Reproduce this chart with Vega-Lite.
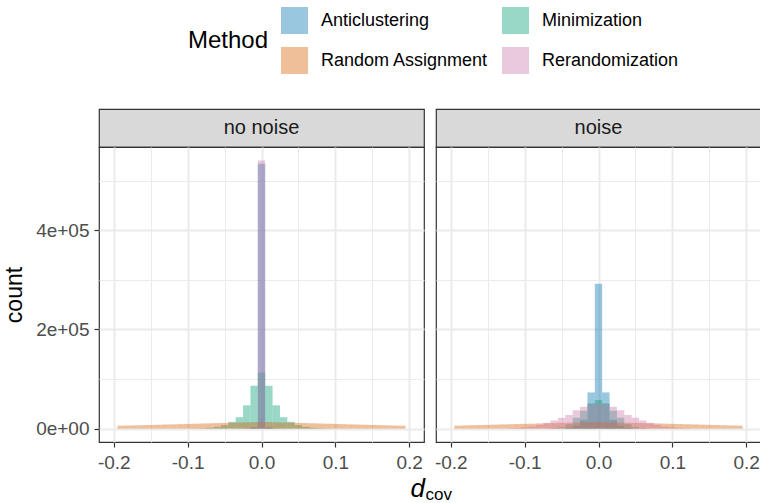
{
  "$schema": "https://vega.github.io/schema/vega-lite/v6.json",
  "padding": {"left": 3, "top": 7, "right": 0, "bottom": 0},
  "background": "white",
  "config": {"font": "Liberation Sans", "view": {"stroke": null}},
  "datasets": {
    "strips": [{"panel": "no noise"}, {"panel": "noise"}],
    "hist": [
      {"panel": "no noise", "method": "Anticlustering", "lo": -0.015, "hi": -0.005, "count": 2500},
      {"panel": "no noise", "method": "Anticlustering", "lo": -0.005, "hi": 0.005, "count": 534000},
      {"panel": "no noise", "method": "Anticlustering", "lo": 0.005, "hi": 0.015, "count": 2500},

      {"panel": "no noise", "method": "Minimization", "lo": -0.095, "hi": -0.085, "count": 300},
      {"panel": "no noise", "method": "Minimization", "lo": -0.085, "hi": -0.075, "count": 700},
      {"panel": "no noise", "method": "Minimization", "lo": -0.075, "hi": -0.065, "count": 1600},
      {"panel": "no noise", "method": "Minimization", "lo": -0.065, "hi": -0.055, "count": 3500},
      {"panel": "no noise", "method": "Minimization", "lo": -0.055, "hi": -0.045, "count": 7000},
      {"panel": "no noise", "method": "Minimization", "lo": -0.045, "hi": -0.035, "count": 13700},
      {"panel": "no noise", "method": "Minimization", "lo": -0.035, "hi": -0.025, "count": 23000},
      {"panel": "no noise", "method": "Minimization", "lo": -0.025, "hi": -0.015, "count": 47000},
      {"panel": "no noise", "method": "Minimization", "lo": -0.015, "hi": -0.005, "count": 86500},
      {"panel": "no noise", "method": "Minimization", "lo": -0.005, "hi": 0.005, "count": 113000},
      {"panel": "no noise", "method": "Minimization", "lo": 0.005, "hi": 0.015, "count": 86500},
      {"panel": "no noise", "method": "Minimization", "lo": 0.015, "hi": 0.025, "count": 47000},
      {"panel": "no noise", "method": "Minimization", "lo": 0.025, "hi": 0.035, "count": 23000},
      {"panel": "no noise", "method": "Minimization", "lo": 0.035, "hi": 0.045, "count": 13700},
      {"panel": "no noise", "method": "Minimization", "lo": 0.045, "hi": 0.055, "count": 7000},
      {"panel": "no noise", "method": "Minimization", "lo": 0.055, "hi": 0.065, "count": 3500},
      {"panel": "no noise", "method": "Minimization", "lo": 0.065, "hi": 0.075, "count": 1600},
      {"panel": "no noise", "method": "Minimization", "lo": 0.075, "hi": 0.085, "count": 700},
      {"panel": "no noise", "method": "Minimization", "lo": 0.085, "hi": 0.095, "count": 300},

      {"panel": "no noise", "method": "Random Assignment", "lo": -0.195, "hi": -0.185, "count": 5800},
      {"panel": "no noise", "method": "Random Assignment", "lo": -0.185, "hi": -0.175, "count": 6200},
      {"panel": "no noise", "method": "Random Assignment", "lo": -0.175, "hi": -0.165, "count": 6600},
      {"panel": "no noise", "method": "Random Assignment", "lo": -0.165, "hi": -0.155, "count": 7000},
      {"panel": "no noise", "method": "Random Assignment", "lo": -0.155, "hi": -0.145, "count": 7400},
      {"panel": "no noise", "method": "Random Assignment", "lo": -0.145, "hi": -0.135, "count": 7800},
      {"panel": "no noise", "method": "Random Assignment", "lo": -0.135, "hi": -0.125, "count": 8200},
      {"panel": "no noise", "method": "Random Assignment", "lo": -0.125, "hi": -0.115, "count": 8600},
      {"panel": "no noise", "method": "Random Assignment", "lo": -0.115, "hi": -0.105, "count": 9000},
      {"panel": "no noise", "method": "Random Assignment", "lo": -0.105, "hi": -0.095, "count": 9500},
      {"panel": "no noise", "method": "Random Assignment", "lo": -0.095, "hi": -0.085, "count": 9900},
      {"panel": "no noise", "method": "Random Assignment", "lo": -0.085, "hi": -0.075, "count": 10300},
      {"panel": "no noise", "method": "Random Assignment", "lo": -0.075, "hi": -0.065, "count": 10700},
      {"panel": "no noise", "method": "Random Assignment", "lo": -0.065, "hi": -0.055, "count": 11100},
      {"panel": "no noise", "method": "Random Assignment", "lo": -0.055, "hi": -0.045, "count": 11500},
      {"panel": "no noise", "method": "Random Assignment", "lo": -0.045, "hi": -0.035, "count": 11900},
      {"panel": "no noise", "method": "Random Assignment", "lo": -0.035, "hi": -0.025, "count": 12300},
      {"panel": "no noise", "method": "Random Assignment", "lo": -0.025, "hi": -0.015, "count": 12700},
      {"panel": "no noise", "method": "Random Assignment", "lo": -0.015, "hi": -0.005, "count": 13100},
      {"panel": "no noise", "method": "Random Assignment", "lo": -0.005, "hi": 0.005, "count": 13500},
      {"panel": "no noise", "method": "Random Assignment", "lo": 0.005, "hi": 0.015, "count": 13100},
      {"panel": "no noise", "method": "Random Assignment", "lo": 0.015, "hi": 0.025, "count": 12700},
      {"panel": "no noise", "method": "Random Assignment", "lo": 0.025, "hi": 0.035, "count": 12300},
      {"panel": "no noise", "method": "Random Assignment", "lo": 0.035, "hi": 0.045, "count": 11900},
      {"panel": "no noise", "method": "Random Assignment", "lo": 0.045, "hi": 0.055, "count": 11500},
      {"panel": "no noise", "method": "Random Assignment", "lo": 0.055, "hi": 0.065, "count": 11100},
      {"panel": "no noise", "method": "Random Assignment", "lo": 0.065, "hi": 0.075, "count": 10700},
      {"panel": "no noise", "method": "Random Assignment", "lo": 0.075, "hi": 0.085, "count": 10300},
      {"panel": "no noise", "method": "Random Assignment", "lo": 0.085, "hi": 0.095, "count": 9900},
      {"panel": "no noise", "method": "Random Assignment", "lo": 0.095, "hi": 0.105, "count": 9500},
      {"panel": "no noise", "method": "Random Assignment", "lo": 0.105, "hi": 0.115, "count": 9000},
      {"panel": "no noise", "method": "Random Assignment", "lo": 0.115, "hi": 0.125, "count": 8600},
      {"panel": "no noise", "method": "Random Assignment", "lo": 0.125, "hi": 0.135, "count": 8200},
      {"panel": "no noise", "method": "Random Assignment", "lo": 0.135, "hi": 0.145, "count": 7800},
      {"panel": "no noise", "method": "Random Assignment", "lo": 0.145, "hi": 0.155, "count": 7400},
      {"panel": "no noise", "method": "Random Assignment", "lo": 0.155, "hi": 0.165, "count": 7000},
      {"panel": "no noise", "method": "Random Assignment", "lo": 0.165, "hi": 0.175, "count": 6600},
      {"panel": "no noise", "method": "Random Assignment", "lo": 0.175, "hi": 0.185, "count": 6200},
      {"panel": "no noise", "method": "Random Assignment", "lo": 0.185, "hi": 0.195, "count": 5800},

      {"panel": "no noise", "method": "Rerandomization", "lo": -0.025, "hi": -0.015, "count": 1000},
      {"panel": "no noise", "method": "Rerandomization", "lo": -0.015, "hi": -0.005, "count": 3000},
      {"panel": "no noise", "method": "Rerandomization", "lo": -0.005, "hi": 0.005, "count": 541000},
      {"panel": "no noise", "method": "Rerandomization", "lo": 0.005, "hi": 0.015, "count": 3000},
      {"panel": "no noise", "method": "Rerandomization", "lo": 0.015, "hi": 0.025, "count": 1000},

      {"panel": "noise", "method": "Anticlustering", "lo": -0.045, "hi": -0.035, "count": 1500},
      {"panel": "noise", "method": "Anticlustering", "lo": -0.035, "hi": -0.025, "count": 6000},
      {"panel": "noise", "method": "Anticlustering", "lo": -0.025, "hi": -0.015, "count": 18000},
      {"panel": "noise", "method": "Anticlustering", "lo": -0.015, "hi": -0.005, "count": 73000},
      {"panel": "noise", "method": "Anticlustering", "lo": -0.005, "hi": 0.005, "count": 292000},
      {"panel": "noise", "method": "Anticlustering", "lo": 0.005, "hi": 0.015, "count": 73000},
      {"panel": "noise", "method": "Anticlustering", "lo": 0.015, "hi": 0.025, "count": 18000},
      {"panel": "noise", "method": "Anticlustering", "lo": 0.025, "hi": 0.035, "count": 6000},
      {"panel": "noise", "method": "Anticlustering", "lo": 0.035, "hi": 0.045, "count": 1500},

      {"panel": "noise", "method": "Minimization", "lo": -0.065, "hi": -0.055, "count": 1000},
      {"panel": "noise", "method": "Minimization", "lo": -0.055, "hi": -0.045, "count": 3000},
      {"panel": "noise", "method": "Minimization", "lo": -0.045, "hi": -0.035, "count": 9000},
      {"panel": "noise", "method": "Minimization", "lo": -0.035, "hi": -0.025, "count": 22000},
      {"panel": "noise", "method": "Minimization", "lo": -0.025, "hi": -0.015, "count": 36000},
      {"panel": "noise", "method": "Minimization", "lo": -0.015, "hi": -0.005, "count": 50900},
      {"panel": "noise", "method": "Minimization", "lo": -0.005, "hi": 0.005, "count": 57600},
      {"panel": "noise", "method": "Minimization", "lo": 0.005, "hi": 0.015, "count": 50900},
      {"panel": "noise", "method": "Minimization", "lo": 0.015, "hi": 0.025, "count": 36000},
      {"panel": "noise", "method": "Minimization", "lo": 0.025, "hi": 0.035, "count": 22000},
      {"panel": "noise", "method": "Minimization", "lo": 0.035, "hi": 0.045, "count": 9000},
      {"panel": "noise", "method": "Minimization", "lo": 0.045, "hi": 0.055, "count": 3000},
      {"panel": "noise", "method": "Minimization", "lo": 0.055, "hi": 0.065, "count": 1000},

      {"panel": "noise", "method": "Random Assignment", "lo": -0.195, "hi": -0.185, "count": 6000},
      {"panel": "noise", "method": "Random Assignment", "lo": -0.185, "hi": -0.175, "count": 6400},
      {"panel": "noise", "method": "Random Assignment", "lo": -0.175, "hi": -0.165, "count": 6800},
      {"panel": "noise", "method": "Random Assignment", "lo": -0.165, "hi": -0.155, "count": 7200},
      {"panel": "noise", "method": "Random Assignment", "lo": -0.155, "hi": -0.145, "count": 7600},
      {"panel": "noise", "method": "Random Assignment", "lo": -0.145, "hi": -0.135, "count": 8000},
      {"panel": "noise", "method": "Random Assignment", "lo": -0.135, "hi": -0.125, "count": 8400},
      {"panel": "noise", "method": "Random Assignment", "lo": -0.125, "hi": -0.115, "count": 8800},
      {"panel": "noise", "method": "Random Assignment", "lo": -0.115, "hi": -0.105, "count": 9200},
      {"panel": "noise", "method": "Random Assignment", "lo": -0.105, "hi": -0.095, "count": 9600},
      {"panel": "noise", "method": "Random Assignment", "lo": -0.095, "hi": -0.085, "count": 10000},
      {"panel": "noise", "method": "Random Assignment", "lo": -0.085, "hi": -0.075, "count": 10400},
      {"panel": "noise", "method": "Random Assignment", "lo": -0.075, "hi": -0.065, "count": 10800},
      {"panel": "noise", "method": "Random Assignment", "lo": -0.065, "hi": -0.055, "count": 11200},
      {"panel": "noise", "method": "Random Assignment", "lo": -0.055, "hi": -0.045, "count": 11600},
      {"panel": "noise", "method": "Random Assignment", "lo": -0.045, "hi": -0.035, "count": 12000},
      {"panel": "noise", "method": "Random Assignment", "lo": -0.035, "hi": -0.025, "count": 12400},
      {"panel": "noise", "method": "Random Assignment", "lo": -0.025, "hi": -0.015, "count": 12800},
      {"panel": "noise", "method": "Random Assignment", "lo": -0.015, "hi": -0.005, "count": 13200},
      {"panel": "noise", "method": "Random Assignment", "lo": -0.005, "hi": 0.005, "count": 13600},
      {"panel": "noise", "method": "Random Assignment", "lo": 0.005, "hi": 0.015, "count": 13200},
      {"panel": "noise", "method": "Random Assignment", "lo": 0.015, "hi": 0.025, "count": 12800},
      {"panel": "noise", "method": "Random Assignment", "lo": 0.025, "hi": 0.035, "count": 12400},
      {"panel": "noise", "method": "Random Assignment", "lo": 0.035, "hi": 0.045, "count": 12000},
      {"panel": "noise", "method": "Random Assignment", "lo": 0.045, "hi": 0.055, "count": 11600},
      {"panel": "noise", "method": "Random Assignment", "lo": 0.055, "hi": 0.065, "count": 11200},
      {"panel": "noise", "method": "Random Assignment", "lo": 0.065, "hi": 0.075, "count": 10800},
      {"panel": "noise", "method": "Random Assignment", "lo": 0.075, "hi": 0.085, "count": 10400},
      {"panel": "noise", "method": "Random Assignment", "lo": 0.085, "hi": 0.095, "count": 10000},
      {"panel": "noise", "method": "Random Assignment", "lo": 0.095, "hi": 0.105, "count": 9600},
      {"panel": "noise", "method": "Random Assignment", "lo": 0.105, "hi": 0.115, "count": 9200},
      {"panel": "noise", "method": "Random Assignment", "lo": 0.115, "hi": 0.125, "count": 8800},
      {"panel": "noise", "method": "Random Assignment", "lo": 0.125, "hi": 0.135, "count": 8400},
      {"panel": "noise", "method": "Random Assignment", "lo": 0.135, "hi": 0.145, "count": 8000},
      {"panel": "noise", "method": "Random Assignment", "lo": 0.145, "hi": 0.155, "count": 7600},
      {"panel": "noise", "method": "Random Assignment", "lo": 0.155, "hi": 0.165, "count": 7200},
      {"panel": "noise", "method": "Random Assignment", "lo": 0.165, "hi": 0.175, "count": 6800},
      {"panel": "noise", "method": "Random Assignment", "lo": 0.175, "hi": 0.185, "count": 6400},
      {"panel": "noise", "method": "Random Assignment", "lo": 0.185, "hi": 0.195, "count": 6000},

      {"panel": "noise", "method": "Rerandomization", "lo": -0.125, "hi": -0.115, "count": 500},
      {"panel": "noise", "method": "Rerandomization", "lo": -0.115, "hi": -0.105, "count": 1200},
      {"panel": "noise", "method": "Rerandomization", "lo": -0.105, "hi": -0.095, "count": 2500},
      {"panel": "noise", "method": "Rerandomization", "lo": -0.095, "hi": -0.085, "count": 4500},
      {"panel": "noise", "method": "Rerandomization", "lo": -0.085, "hi": -0.075, "count": 7500},
      {"panel": "noise", "method": "Rerandomization", "lo": -0.075, "hi": -0.065, "count": 11500},
      {"panel": "noise", "method": "Rerandomization", "lo": -0.065, "hi": -0.055, "count": 16500},
      {"panel": "noise", "method": "Rerandomization", "lo": -0.055, "hi": -0.045, "count": 22000},
      {"panel": "noise", "method": "Rerandomization", "lo": -0.045, "hi": -0.035, "count": 27500},
      {"panel": "noise", "method": "Rerandomization", "lo": -0.035, "hi": -0.025, "count": 37000},
      {"panel": "noise", "method": "Rerandomization", "lo": -0.025, "hi": -0.015, "count": 44000},
      {"panel": "noise", "method": "Rerandomization", "lo": -0.015, "hi": -0.005, "count": 49000},
      {"panel": "noise", "method": "Rerandomization", "lo": -0.005, "hi": 0.005, "count": 51000},
      {"panel": "noise", "method": "Rerandomization", "lo": 0.005, "hi": 0.015, "count": 49000},
      {"panel": "noise", "method": "Rerandomization", "lo": 0.015, "hi": 0.025, "count": 44000},
      {"panel": "noise", "method": "Rerandomization", "lo": 0.025, "hi": 0.035, "count": 37000},
      {"panel": "noise", "method": "Rerandomization", "lo": 0.035, "hi": 0.045, "count": 27500},
      {"panel": "noise", "method": "Rerandomization", "lo": 0.045, "hi": 0.055, "count": 22000},
      {"panel": "noise", "method": "Rerandomization", "lo": 0.055, "hi": 0.065, "count": 16500},
      {"panel": "noise", "method": "Rerandomization", "lo": 0.065, "hi": 0.075, "count": 11500},
      {"panel": "noise", "method": "Rerandomization", "lo": 0.075, "hi": 0.085, "count": 7500},
      {"panel": "noise", "method": "Rerandomization", "lo": 0.085, "hi": 0.095, "count": 4500},
      {"panel": "noise", "method": "Rerandomization", "lo": 0.095, "hi": 0.105, "count": 2500},
      {"panel": "noise", "method": "Rerandomization", "lo": 0.105, "hi": 0.115, "count": 1200},
      {"panel": "noise", "method": "Rerandomization", "lo": 0.115, "hi": 0.125, "count": 500}
    ]
  },
  "columns": 2,
  "bounds": "flush",
  "spacing": {"row": 0, "column": 12},
  "resolve": {"scale": {"color": "shared"}},
  "concat": [
    {
      "width": 325, "height": 38,
      "data": {"name": "strips"},
      "transform": [{"filter": "datum.panel == 'no noise'"}],
      "mark": {"type": "text", "fontSize": 20, "color": "#1a1a1a"},
      "encoding": {"text": {"field": "panel", "type": "nominal"}},
      "view": {"fill": "#d9d9d9", "stroke": "#333333", "strokeWidth": 1.2}
    },
    {
      "width": 325, "height": 38,
      "data": {"name": "strips"},
      "transform": [{"filter": "datum.panel == 'noise'"}],
      "mark": {"type": "text", "fontSize": 20, "color": "#1a1a1a"},
      "encoding": {"text": {"field": "panel", "type": "nominal"}},
      "view": {"fill": "#d9d9d9", "stroke": "#333333", "strokeWidth": 1.2}
    },
    {
      "width": 325, "height": 295,
      "data": {"name": "hist"},
      "transform": [{"filter": "datum.panel == 'no noise'"}],
      "mark": {"type": "bar", "opacity": 0.4, "strokeWidth": 0},
      "encoding": {
        "x": {"field": "lo", "type": "quantitative",
          "scale": {"domain": [-0.22, 0.22], "nice": false, "zero": false},
          "axis": {"title": "d", "titleFontStyle": "italic", "titleFontSize": 26, "titleFontWeight": "normal", "titleColor": "#000000",
            "titleX": 311, "titleY": 54, "titleAlign": "left", "titleBaseline": "alphabetic",
            "values": [-0.2, -0.15, -0.1, -0.05, 0, 0.05, 0.1, 0.15, 0.2],
            "labelExpr": "round(abs(datum.value)*20) % 2 == 1 ? '' : (datum.value < -0.001 ? '-' : '') + format(abs(datum.value), '.1f')",
            "domain": false, "tickSize": 5, "tickWidth": 1.2,
            "tickColor": {"condition": {"test": "round(abs(datum.value)*20) % 2 == 1", "value": "rgba(0,0,0,0)"}, "value": "#333333"},
            "gridColor": "#ebebeb",
            "gridWidth": {"condition": {"test": "round(abs(datum.value)*20) % 2 == 1", "value": 1}, "value": 2},
            "labelFontSize": 19, "labelColor": "#4d4d4d", "labelPadding": 6}},
        "x2": {"field": "hi"},
        "y": {"field": "count", "type": "quantitative", "stack": null,
          "scale": {"domain": [-27000, 568000], "nice": false, "zero": false},
          "axis": {"title": "count", "titleFontSize": 23, "titleFontWeight": "normal", "titleColor": "#000000", "titlePadding": 9,
            "values": [0, 100000, 200000, 300000, 400000, 500000],
            "labelExpr": "round(datum.value/100000) % 2 == 1 ? '' : (datum.value == 0 ? '0e+00' : format(datum.value/100000, 'd') + 'e+05')",
            "domain": false, "tickSize": 5, "tickWidth": 1.2,
            "tickColor": {"condition": {"test": "round(datum.value/100000) % 2 == 1", "value": "rgba(0,0,0,0)"}, "value": "#333333"},
            "gridColor": "#ebebeb",
            "gridWidth": {"condition": {"test": "round(datum.value/100000) % 2 == 1", "value": 1}, "value": 2},
            "labelFontSize": 19, "labelColor": "#4d4d4d", "labelPadding": 5}},
        "y2": {"datum": 0},
        "color": {"field": "method", "type": "nominal",
          "scale": {"domain": ["Anticlustering", "Minimization", "Random Assignment", "Rerandomization"],
                    "range": ["#0072B2", "#009E73", "#D55E00", "#CC79A7"]},
          "legend": {"orient": "none", "legendX": 89, "legendY": -102, "direction": "horizontal", "columns": 2,
            "title": "Method", "titleOrient": "left", "titleAnchor": "middle", "titleBaseline": "middle",
            "titleFontSize": 24, "titleFontWeight": "normal", "titleColor": "#000000", "titlePadding": 12,
            "labelFontSize": 18, "labelColor": "#000000", "labelOffset": 13, "labelLimit": 300,
            "symbolType": "square", "symbolSize": 729, "symbolOpacity": 0.4, "symbolStrokeWidth": 0,
            "rowPadding": 13, "columnPadding": 13}}
      },
      "view": {"stroke": "#333333", "strokeWidth": 1.2}
    },
    {
      "width": 325, "height": 295,
      "data": {"name": "hist"},
      "transform": [{"filter": "datum.panel == 'noise'"}],
      "mark": {"type": "bar", "opacity": 0.4, "strokeWidth": 0},
      "encoding": {
        "x": {"field": "lo", "type": "quantitative",
          "scale": {"domain": [-0.22, 0.22], "nice": false, "zero": false},
          "axis": {"title": "cov", "titleFontSize": 17, "titleFontWeight": "normal", "titleColor": "#000000",
            "titleX": -11, "titleY": 57, "titleAlign": "left", "titleBaseline": "alphabetic",
            "values": [-0.2, -0.15, -0.1, -0.05, 0, 0.05, 0.1, 0.15, 0.2],
            "labelExpr": "round(abs(datum.value)*20) % 2 == 1 ? '' : (datum.value < -0.001 ? '-' : '') + format(abs(datum.value), '.1f')",
            "domain": false, "tickSize": 5, "tickWidth": 1.2,
            "tickColor": {"condition": {"test": "round(abs(datum.value)*20) % 2 == 1", "value": "rgba(0,0,0,0)"}, "value": "#333333"},
            "gridColor": "#ebebeb",
            "gridWidth": {"condition": {"test": "round(abs(datum.value)*20) % 2 == 1", "value": 1}, "value": 2},
            "labelFontSize": 19, "labelColor": "#4d4d4d", "labelPadding": 6}},
        "x2": {"field": "hi"},
        "y": {"field": "count", "type": "quantitative", "stack": null,
          "scale": {"domain": [-27000, 568000], "nice": false, "zero": false},
          "axis": {"title": null, "labels": false, "ticks": false, "domain": false,
            "values": [0, 100000, 200000, 300000, 400000, 500000],
            "gridColor": "#ebebeb",
            "gridWidth": {"condition": {"test": "round(datum.value/100000) % 2 == 1", "value": 1}, "value": 2}}},
        "y2": {"datum": 0},
        "color": {"field": "method", "type": "nominal",
          "scale": {"domain": ["Anticlustering", "Minimization", "Random Assignment", "Rerandomization"],
                    "range": ["#0072B2", "#009E73", "#D55E00", "#CC79A7"]},
          "legend": {"orient": "none", "legendX": 89, "legendY": -102, "direction": "horizontal", "columns": 2,
            "title": "Method", "titleOrient": "left", "titleAnchor": "middle", "titleBaseline": "middle",
            "titleFontSize": 24, "titleFontWeight": "normal", "titleColor": "#000000", "titlePadding": 12,
            "labelFontSize": 18, "labelColor": "#000000", "labelOffset": 13, "labelLimit": 300,
            "symbolType": "square", "symbolSize": 729, "symbolOpacity": 0.4, "symbolStrokeWidth": 0,
            "rowPadding": 13, "columnPadding": 13}}
      },
      "view": {"stroke": "#333333", "strokeWidth": 1.2}
    }
  ]
}
